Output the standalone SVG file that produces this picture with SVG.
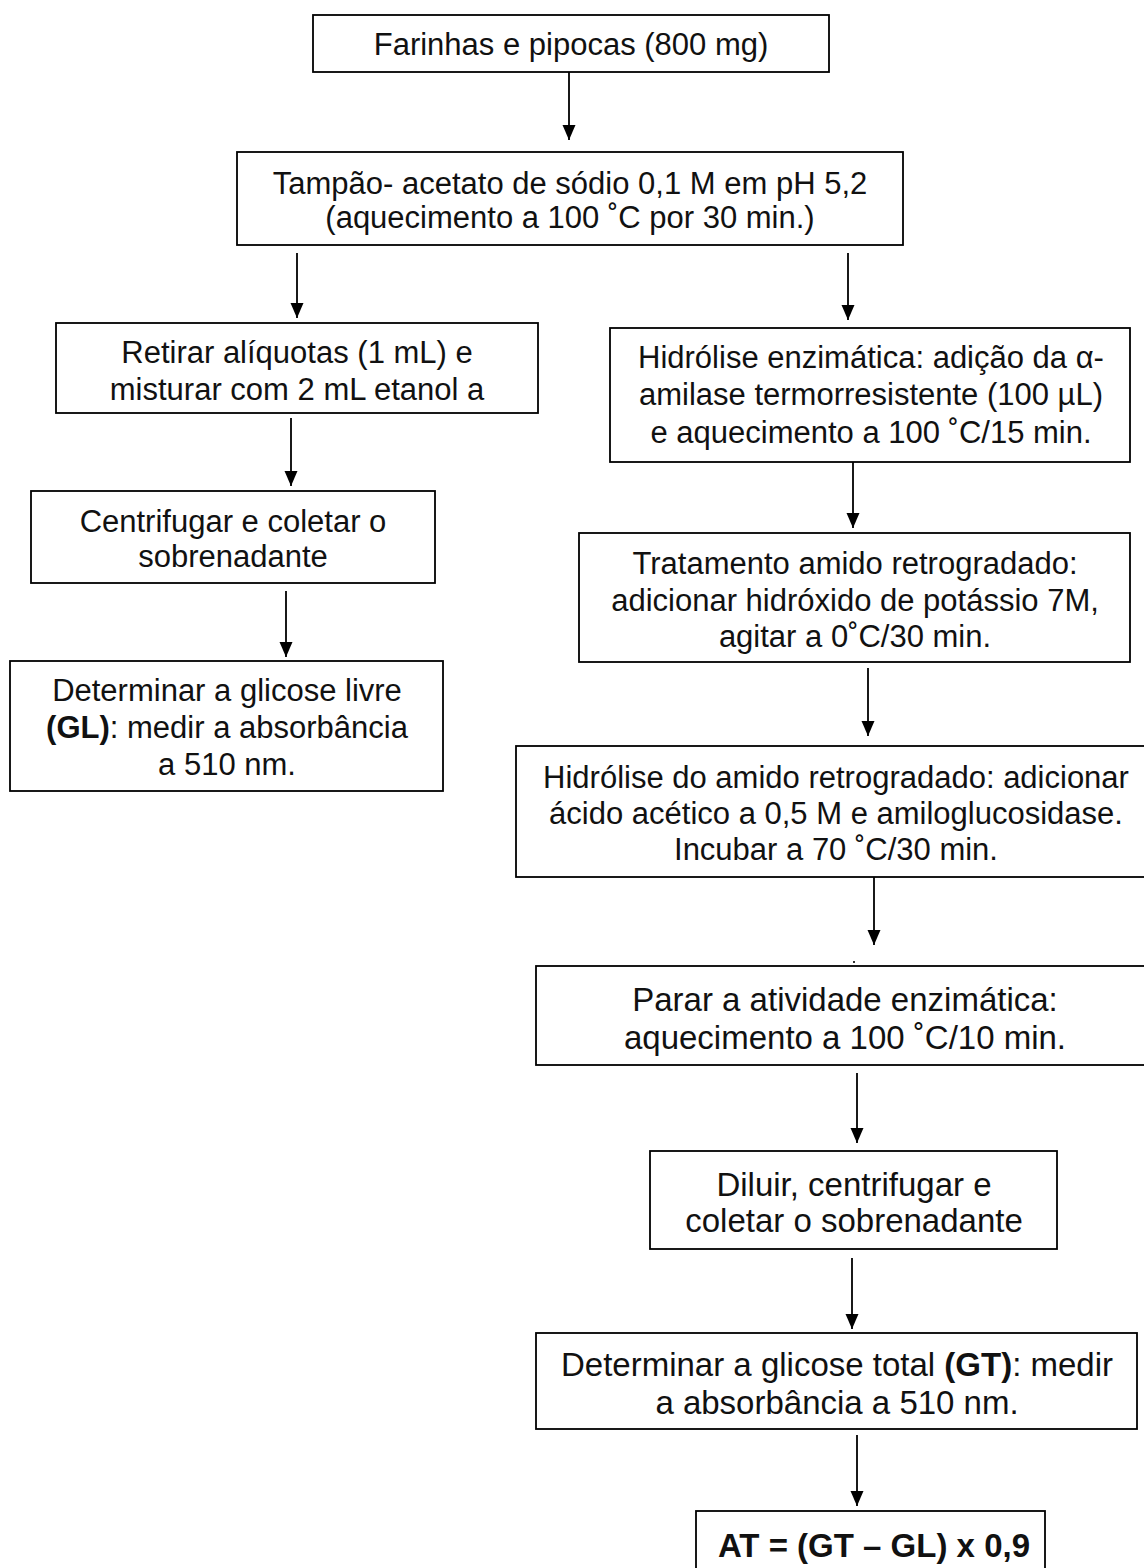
<svg xmlns="http://www.w3.org/2000/svg" width="1144" height="1568" viewBox="0 0 1144 1568">
<defs>
<marker id="ah" markerUnits="userSpaceOnUse" markerWidth="16" markerHeight="14" refX="15" refY="6.5" orient="auto">
<path d="M0,0 L15,6.5 L0,13 Z" fill="#000"/>
</marker>
<style>
.box{fill:#fff;stroke:#000;stroke-width:1.8}
.t{font-family:"Liberation Sans",Arial,sans-serif;font-size:31px;fill:#111;text-anchor:middle}
.L{font-size:33px}
.b{font-weight:bold}
.c{stroke:#000;stroke-width:1.8;fill:none;marker-end:url(#ah)}
</style>
</defs>
<rect width="1144" height="1568" fill="#fff"/>
<g id="connectors">
<line class="c" x1="569" y1="72" x2="569" y2="140"/>
<line class="c" x1="297" y1="253" x2="297" y2="318"/>
<line class="c" x1="848" y1="253" x2="848" y2="320"/>
<line class="c" x1="291" y1="418" x2="291" y2="486"/>
<line class="c" x1="286" y1="591" x2="286" y2="657"/>
<line class="c" x1="853" y1="462" x2="853" y2="528"/>
<line class="c" x1="868" y1="668" x2="868" y2="736"/>
<line class="c" x1="874" y1="877" x2="874" y2="945"/>
<line class="c" x1="857" y1="1073" x2="857" y2="1143"/>
<line class="c" x1="852" y1="1258" x2="852" y2="1329"/>
<line class="c" x1="857" y1="1435" x2="857" y2="1506"/>
</g>
<rect x="853" y="961" width="2" height="2" fill="#333"/>
<g id="n1"><rect class="box" x="313" y="15" width="516" height="57"/>
<text class="t" x="571" y="55">Farinhas e pipocas (800 mg)</text></g>
<g id="n2"><rect class="box" x="237" y="152" width="666" height="93"/>
<text class="t" x="570" y="194">Tampão- acetato de sódio 0,1 M em pH 5,2</text>
<text class="t" x="570" y="228">(aquecimento a 100 ˚C por 30 min.)</text></g>
<g id="n3"><rect class="box" x="56" y="323" width="482" height="90"/>
<text class="t" x="297" y="363">Retirar alíquotas (1 mL) e</text>
<text class="t" x="297" y="400">misturar com 2 mL etanol a</text></g>
<g id="n4"><rect class="box" x="31" y="491" width="404" height="92"/>
<text class="t" x="233" y="532">Centrifugar e coletar o</text>
<text class="t" x="233" y="567">sobrenadante</text></g>
<g id="n5"><rect class="box" x="10" y="661" width="433" height="130"/>
<text class="t" x="227" y="701">Determinar a glicose livre</text>
<text class="t" x="227" y="738"><tspan class="b">(GL)</tspan>: medir a absorbância</text>
<text class="t" x="227" y="775">a 510 nm.</text></g>
<g id="n6"><rect class="box" x="610" y="328" width="520" height="134"/>
<text class="t" x="871" y="368">Hidrólise enzimática: adição da α-</text>
<text class="t" x="871" y="405">amilase termorresistente (100 µL)</text>
<text class="t" x="871" y="443">e aquecimento a 100 ˚C/15 min.</text></g>
<g id="n7"><rect class="box" x="579" y="533" width="551" height="129"/>
<text class="t" x="855" y="574">Tratamento amido retrogradado:</text>
<text class="t" x="855" y="611">adicionar hidróxido de potássio 7M,</text>
<text class="t" x="855" y="647">agitar a 0˚C/30 min.</text></g>
<g id="n8"><rect class="box" x="516" y="746" width="640" height="131"/>
<text class="t" x="836" y="788">Hidrólise do amido retrogradado: adicionar</text>
<text class="t" x="836" y="824">ácido acético a 0,5 M e amiloglucosidase.</text>
<text class="t" x="836" y="860">Incubar a 70 ˚C/30 min.</text></g>
<g id="n9"><rect class="box" x="536" y="966" width="620" height="99"/>
<text class="t L" x="845" y="1011">Parar a atividade enzimática:</text>
<text class="t L" x="845" y="1049">aquecimento a 100 ˚C/10 min.</text></g>
<g id="n10"><rect class="box" x="650" y="1151" width="407" height="98"/>
<text class="t L" x="854" y="1196">Diluir, centrifugar e</text>
<text class="t L" x="854" y="1232">coletar o sobrenadante</text></g>
<g id="n11"><rect class="box" x="536" y="1333" width="601" height="96"/>
<text class="t L" x="837" y="1376">Determinar a glicose total <tspan class="b">(GT)</tspan>: medir</text>
<text class="t L" x="837" y="1414">a absorbância a 510 nm.</text></g>
<g id="n12"><rect class="box" x="696" y="1511" width="349" height="70"/>
<text class="t L b" x="874" y="1557">AT = (GT – GL) x 0,9</text></g>
</svg>
